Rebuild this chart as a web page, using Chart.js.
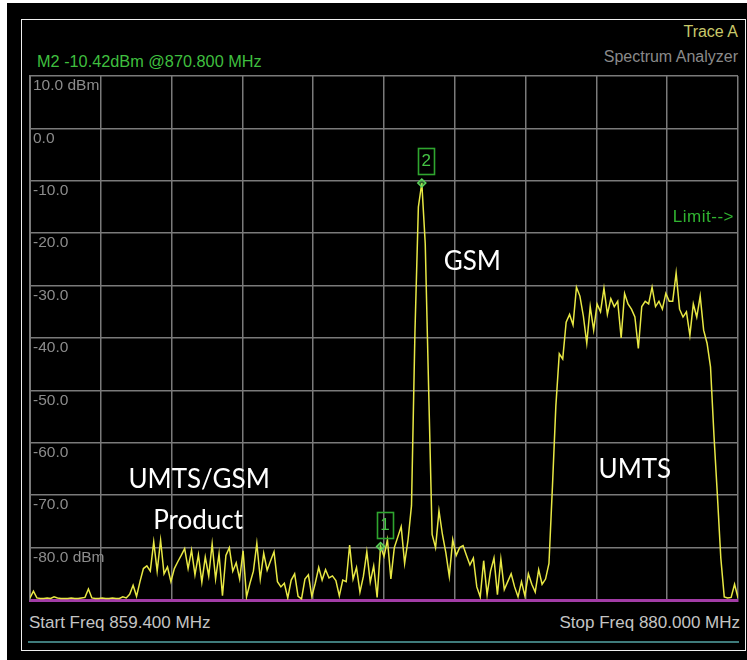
<!DOCTYPE html>
<html>
<head>
<meta charset="utf-8">
<title>Spectrum Analyzer - Trace A</title>
<script src="https://cdn.jsdelivr.net/npm/chart.js@4.4.1/dist/chart.umd.min.js"></script>
<style>
  html, body { margin: 0; padding: 0; background: #ffffff; width: 747px; height: 660px; overflow: hidden; }
  #screen { position: absolute; left: 7px; top: 3px; width: 740px; height: 657px; background: #000000; }
  #frame { position: absolute; left: 21px; top: 19px; width: 725px; height: 632px; border: 1px solid #eeeeee; box-sizing: border-box; }
  #rule { position: absolute; left: 28px; top: 641px; width: 711px; height: 2px; background: #3f7c7c; }
  .txt { position: absolute; white-space: nowrap; font-family: "Liberation Sans", Arial, sans-serif; line-height: 1; }
  #traceName { right: 9px; top: 24px; font-size: 16px; color: #c9c96a; }
  #instName { right: 9px; top: 49px; font-size: 16px; color: #8a8a8a; }
  #readout { left: 37px; top: 53px; font-size: 16.3px; color: #3fbf3f; }
  #startFreq { left: 29px; top: 614px; font-size: 17px; color: #c4c4c4; font-family: "Liberation Sans Narrow", "Liberation Sans", Arial, sans-serif; }
  #stopFreq { right: 7px; top: 614px; font-size: 17px; color: #c4c4c4; font-family: "Liberation Sans Narrow", "Liberation Sans", Arial, sans-serif; }
  #plot { position: absolute; left: 0; top: 0; }
</style>
</head>
<body>
<div id="screen"></div>
<div id="frame"></div>
<div id="rule"></div>
<div class="txt" id="traceName">Trace A</div>
<div class="txt" id="instName">Spectrum Analyzer</div>
<div class="txt" id="readout"></div>
<div class="txt" id="startFreq"></div>
<div class="txt" id="stopFreq"></div>
<canvas id="plot" width="747" height="660"></canvas>
<script>
// Sweep settings (MHz)
const START_MHZ = 859.4;
const STOP_MHZ = 880.0;
const STEP_MHZ = 0.1;

// Trace A levels (dBm), one per sweep bin from START_MHZ in STEP_MHZ steps
const TRACE_A_DBM = [
  -89.6, -88.3, -89.6, -89.7, -89.7, -89.6, -89.7, -89.4, -89.6, -89.7,
  -89.7, -89.7, -89.6, -89.7, -89.7, -89.6, -89.5, -87.9, -89.6, -89.7,
  -89.7, -89.6, -89.7, -89.7, -89.6, -89.7, -89.7, -89.4, -89.6, -88.9,
  -87.2, -89.3, -86.5, -84.0, -83.5, -84.5, -78.9, -84.5, -78.6, -85.0,
  -83.7, -86.5, -84.0, -82.7, -81.5, -80.2, -84.0, -80.5, -85.2, -81.4,
  -86.6, -81.8, -85.4, -79.3, -86.0, -81.2, -89.2, -81.5, -80.0, -84.5,
  -82.9, -86.0, -80.6, -89.4, -86.8, -84.5, -79.2, -86.0, -81.1, -84.3,
  -82.5, -80.8, -86.5, -87.5, -86.8, -89.6, -86.2, -85.0, -89.3, -89.8,
  -86.0, -85.2, -89.3, -86.8, -83.8, -86.2, -84.2, -85.8, -85.4, -86.3,
  -89.2, -86.2, -86.5, -79.5, -86.0, -83.8, -88.5, -85.5, -80.8, -86.6,
  -83.5, -89.5, -79.8, -81.7, -78.5, -86.0, -80.0, -78.0, -76.0, -83.0,
  -78.5, -72.0, -39.0, -15.0, -10.42, -22.0, -50.0, -77.5, -80.0, -73.0,
  -77.5, -81.0, -85.5, -78.5, -81.5, -80.0, -79.6, -81.5, -83.3, -82.0,
  -87.5, -89.4, -82.5, -89.0, -84.5, -82.0, -89.0, -82.2, -88.0, -86.5,
  -85.0, -87.5, -89.4, -86.5, -89.2, -85.0, -87.0, -88.5, -84.2, -87.0,
  -86.0, -83.0, -68.5, -53.0, -43.0, -44.0, -37.0, -35.5, -37.5, -30.3,
  -32.0, -35.8, -41.0, -34.0, -38.5, -33.5, -35.0, -30.5, -35.5, -32.5,
  -34.0, -33.0, -40.0, -31.5, -33.5, -34.5, -36.0, -42.0, -34.0, -33.0,
  -33.5, -30.3, -34.0, -33.0, -34.5, -31.5, -33.0, -33.0, -27.6, -34.5,
  -36.0, -35.0, -39.5, -33.5, -36.0, -32.0, -38.5, -41.0, -45.5, -58.5,
  -70.0, -82.0, -89.4, -89.6, -89.5, -87.0, -89.6
];

// Amplitude scale: reference level, bottom, dB per division
const REF_LEVEL_DBM = 10;
const BOTTOM_DBM = -90;
const DB_PER_DIV = 10;
const Y_TICK_LABELS = ['10.0 dBm', '0.0', '-10.0', '-20.0', '-30.0', '-40.0', '-50.0', '-60.0', '-70.0', '-80.0 dBm', ''];

// Markers
const MARKER_NAMES = ['1', '2'];
const MARKER_FREQS_MHZ = [869.6, 870.8];
const ACTIVE_MARKER = 1;

// Signal annotations
const BAND_TEXTS = ['UMTS/GSM', 'Product', 'GSM', 'UMTS'];
const LIMIT_TEXT = 'Limit-->';

function binOf(f) { return Math.round((f - START_MHZ) / STEP_MHZ); }
function levelAt(f) { return TRACE_A_DBM[binOf(f)]; }

const tracePoints = TRACE_A_DBM.map((v, i) => ({ x: START_MHZ + i * STEP_MHZ, y: v }));
const markerPoints = MARKER_FREQS_MHZ.map(f => ({ x: f, y: levelAt(f) }));

// Header / footer readouts
document.getElementById('readout').textContent =
  'M' + MARKER_NAMES[ACTIVE_MARKER] + ' ' + levelAt(MARKER_FREQS_MHZ[ACTIVE_MARKER]).toFixed(2) +
  'dBm @' + MARKER_FREQS_MHZ[ACTIVE_MARKER].toFixed(3) + ' MHz';
document.getElementById('startFreq').textContent = 'Start Freq ' + START_MHZ.toFixed(3) + ' MHz';
document.getElementById('stopFreq').textContent = 'Stop Freq ' + STOP_MHZ.toFixed(3) + ' MHz';

// Text placement inside the graticule (anchor in MHz / dBm)
const bandLabelLayout = [
  { text: BAND_TEXTS[0], f: 864.32, l: -67.0 },
  { text: BAND_TEXTS[1], f: 864.29, l: -74.9 },
  { text: BAND_TEXTS[2], f: 872.27, l: -25.5 },
  { text: BAND_TEXTS[3], f: 877.0, l: -65.1 }
];

const overlay = {
  id: 'overlay',
  afterDatasetsDraw(chart) {
    const { ctx, chartArea, scales: { x, y } } = chart;
    ctx.save();
    // marker number boxes
    MARKER_FREQS_MHZ.forEach((f, k) => {
      const px = x.getPixelForValue(f);
      const py = y.getPixelForValue(levelAt(f));
      ctx.strokeStyle = '#2fa52f';
      ctx.lineWidth = 1.6;
      ctx.strokeRect(Math.round(px - 4) + 0.5, Math.round(py - 35) + 0.5, 16, 26);
      ctx.fillStyle = '#45c445';
      ctx.font = '17px "Liberation Sans", Arial, sans-serif';
      ctx.textAlign = 'center';
      ctx.textBaseline = 'middle';
      ctx.fillText(MARKER_NAMES[k], px + 4.5, py - 21.5);
    });
    // limit label
    ctx.fillStyle = '#30b430';
    ctx.font = '17px "Liberation Sans", Arial, sans-serif';
    if ('letterSpacing' in ctx) ctx.letterSpacing = '0.5px';
    ctx.textAlign = 'right';
    ctx.textBaseline = 'alphabetic';
    ctx.fillText(LIMIT_TEXT, chartArea.right - 4, y.getPixelForValue(-17.9));
    if ('letterSpacing' in ctx) ctx.letterSpacing = '0px';
    // band annotations
    ctx.fillStyle = '#ffffff';
    ctx.font = '26px Lato, "Open Sans", sans-serif';
    ctx.textAlign = 'center';
    ctx.textBaseline = 'middle';
    bandLabelLayout.forEach(a => {
      ctx.fillText(a.text, x.getPixelForValue(a.f), y.getPixelForValue(a.l));
    });
    ctx.restore();
  }
};

const GRID = '#7a7a7a';

new Chart(document.getElementById('plot'), {
  type: 'line',
  data: {
    datasets: [
      {
        data: markerPoints,
        showLine: false,
        pointStyle: 'rectRot',
        pointRadius: 4,
        pointBorderWidth: 1.5,
        pointBorderColor: '#5ad35a',
        pointBackgroundColor: 'rgba(90,210,90,0.45)',
        order: 1
      },
      {
        data: tracePoints,
        borderColor: '#e8e844',
        borderWidth: 1.5,
        pointRadius: 0,
        tension: 0,
        order: 2
      }
    ]
  },
  options: {
    responsive: false,
    animation: false,
    devicePixelRatio: 1,
    layout: { padding: { left: 30, top: 76, right: 9, bottom: 60 } },
    plugins: { legend: { display: false }, tooltip: { enabled: false } },
    scales: {
      x: {
        type: 'linear',
        min: START_MHZ,
        max: STOP_MHZ,
        afterBuildTicks: s => {
          const t = [];
          for (let k = 0; k <= 10; k++) t.push({ value: START_MHZ + k * (STOP_MHZ - START_MHZ) / 10 });
          s.ticks = t;
        },
        afterFit: s => { s.height = 0; },
        ticks: { display: false },
        grid: { color: GRID, lineWidth: 1.5, drawTicks: false },
        border: { color: '#a23ca6', width: 3 }
      },
      y: {
        min: BOTTOM_DBM,
        max: REF_LEVEL_DBM,
        afterFit: s => { s.width = 0; },
        ticks: {
          stepSize: DB_PER_DIV,
          mirror: true,
          padding: 3,
          labelOffset: 10,
          color: '#8c8c8c',
          font: { family: '"Liberation Sans", Arial, sans-serif', size: 15.5 },
          callback: v => Y_TICK_LABELS[Math.round((REF_LEVEL_DBM - v) / DB_PER_DIV)]
        },
        grid: {
          color: c => (c.tick && c.tick.value === BOTTOM_DBM) ? 'rgba(0,0,0,0)' : GRID,
          lineWidth: 1.5,
          drawTicks: false
        },
        border: { color: GRID, width: 2 }
      }
    }
  },
  plugins: [overlay]
});
</script>
</body>
</html>
